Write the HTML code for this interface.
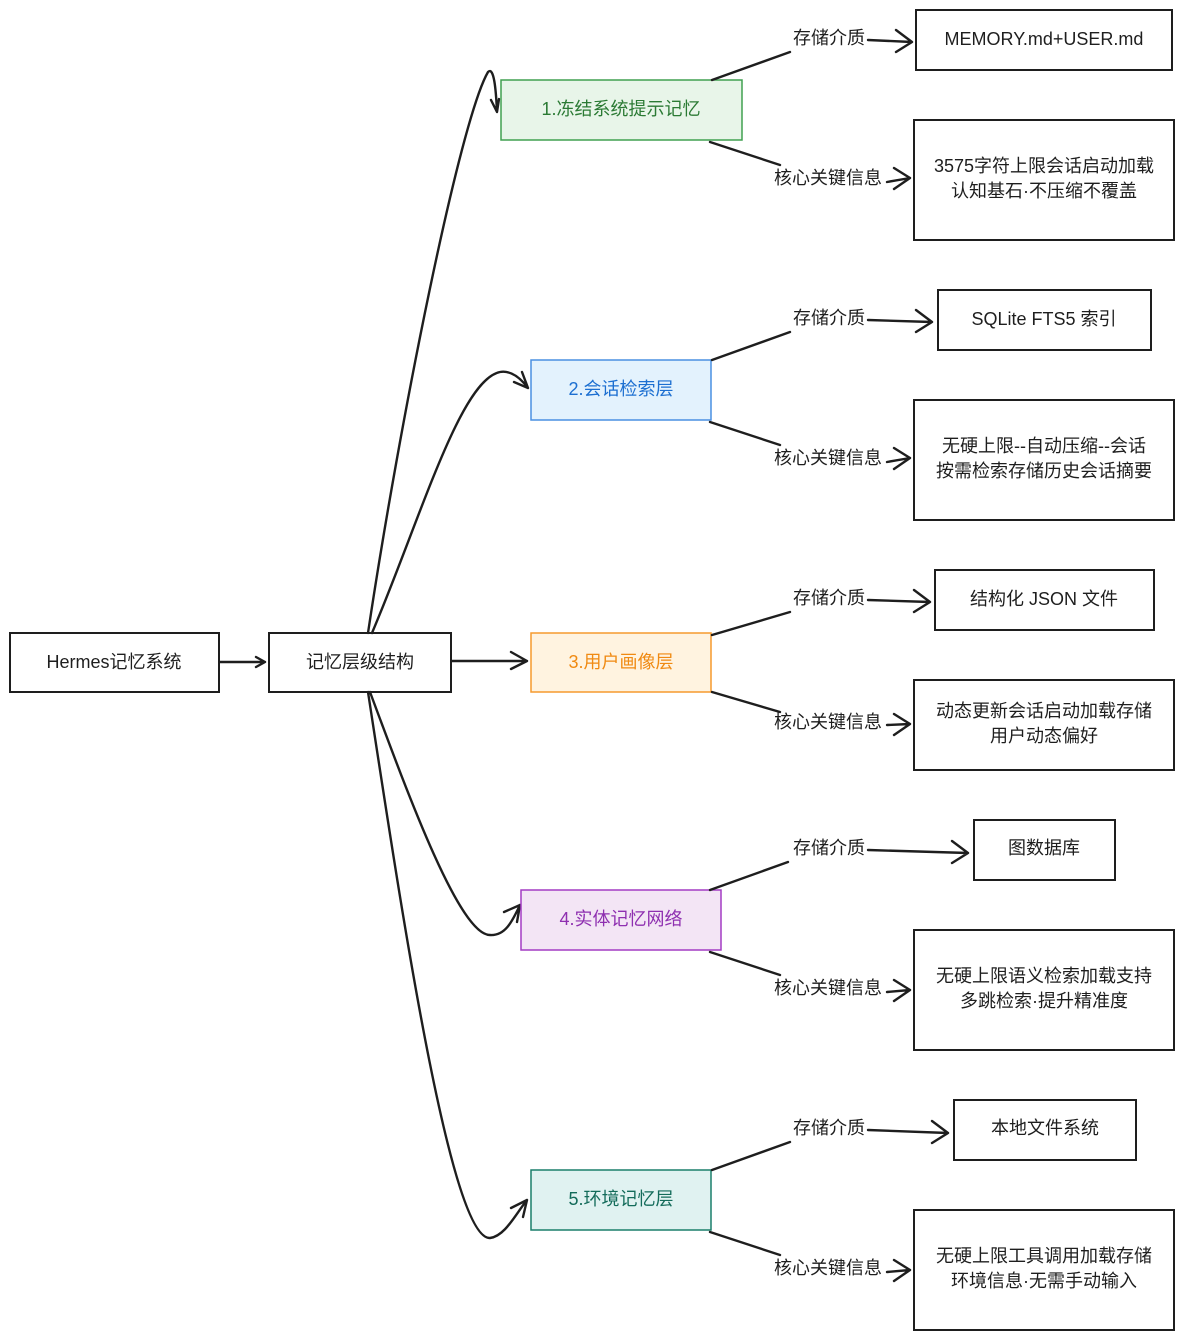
<!DOCTYPE html>
<html><head><meta charset="utf-8"><style>
html,body{margin:0;padding:0;background:#fff;}
svg{display:block;}
text{font-family:"Liberation Sans","Noto Sans CJK SC",sans-serif;font-size:18px;dominant-baseline:central;text-anchor:middle;}
.b{fill:#fff;stroke:#1e1e1e;stroke-width:2;}
.l{fill:none;stroke:#1e1e1e;stroke-width:2.4;stroke-linecap:round;stroke-linejoin:round;}
.lab{font-size:18px;fill:#1e1e1e;}
</style></head><body>
<svg width="1184" height="1340" viewBox="0 0 1184 1340" xmlns="http://www.w3.org/2000/svg">
<rect width="1184" height="1340" fill="#fff"/>
<rect class="b" x="10" y="633" width="209" height="59"/>
<text x="114" y="662" fill="#1e1e1e">Hermes记忆系统</text>
<rect class="b" x="269" y="633" width="182" height="59"/>
<text x="360" y="662" fill="#1e1e1e">记忆层级结构</text>
<path class="l" d="M220 662 L265 662 M256 657 L265 662 L256 667"/>
<path class="l" d="M452 661 L527 661 M511 652 L527 661 L511 669"/>
<path class="l" d="M368 633 C400 420 460 120 488 72 C494 66 496 90 497 112 M491 100 L497 112 L499 99"/>
<path class="l" d="M372 633 C420 520 460 380 500 372 C512 370 522 380 528 388 M514 382 L528 388 L522 372"/>
<path class="l" d="M370 692 C410 800 460 935 490 935 C505 936 512 922 520 905 M504 912 L520 905 L517 922"/>
<path class="l" d="M368 692 C400 900 450 1240 490 1238 C505 1236 515 1215 527 1200 M511 1208 L527 1200 L523 1217"/>
<rect x="501" y="80" width="241" height="60" fill="#e8f5e9" stroke="#40a050" stroke-width="1.5"/>
<text x="621" y="109" fill="#2b7a34">1.冻结系统提示记忆</text>
<rect x="531" y="360" width="180" height="60" fill="#e3f2fd" stroke="#4a90e2" stroke-width="1.5"/>
<text x="621" y="389" fill="#1c6fd1">2.会话检索层</text>
<rect x="531" y="633" width="180" height="59" fill="#fff3e0" stroke="#f59a2e" stroke-width="1.5"/>
<text x="621" y="662" fill="#f08a12">3.用户画像层</text>
<rect x="521" y="890" width="200" height="60" fill="#f3e5f5" stroke="#a33cc4" stroke-width="1.5"/>
<text x="621" y="919" fill="#8e2fb0">4.实体记忆网络</text>
<rect x="531" y="1170" width="180" height="60" fill="#e0f2f1" stroke="#1a7f6b" stroke-width="1.5"/>
<text x="621" y="1199" fill="#136b5a">5.环境记忆层</text>

<path class="l" d="M712 80 L790 52 M868 40 L912 42 M896 30 L912 42 L896 52"/>
<text class="lab" x="829" y="38">存储介质</text>
<path class="l" d="M710 142 L780 165 M887 182 L910 178 M894 168 L910 178 L894 189"/>
<text class="lab" x="828" y="178">核心关键信息</text>
<rect class="b" x="916" y="10" width="256" height="60"/>
<text x="1044" y="39" fill="#1e1e1e">MEMORY.md+USER.md</text>
<rect class="b" x="914" y="120" width="260" height="120"/>
<text x="1044" y="166" fill="#1e1e1e">3575字符上限会话启动加载</text>
<text x="1044" y="191" fill="#1e1e1e">认知基石·不压缩不覆盖</text>

<path class="l" d="M712 360 L790 332 M868 320 L932 322 M916 310 L932 322 L916 332"/>
<text class="lab" x="829" y="318">存储介质</text>
<path class="l" d="M710 422 L780 445 M887 462 L910 458 M894 448 L910 458 L894 469"/>
<text class="lab" x="828" y="458">核心关键信息</text>
<rect class="b" x="938" y="290" width="213" height="60"/>
<text x="1044" y="319" fill="#1e1e1e">SQLite FTS5 索引</text>
<rect class="b" x="914" y="400" width="260" height="120"/>
<text x="1044" y="446" fill="#1e1e1e">无硬上限--自动压缩--会话</text>
<text x="1044" y="471" fill="#1e1e1e">按需检索存储历史会话摘要</text>

<path class="l" d="M712 635 L790 612 M868 600 L930 602 M914 590 L930 602 L914 612"/>
<text class="lab" x="829" y="598">存储介质</text>
<path class="l" d="M712 692 L780 712 M887 725 L910 724 M894 714 L910 724 L894 735"/>
<text class="lab" x="828" y="722">核心关键信息</text>
<rect class="b" x="935" y="570" width="219" height="60"/>
<text x="1044" y="599" fill="#1e1e1e">结构化 JSON 文件</text>
<rect class="b" x="914" y="680" width="260" height="90"/>
<text x="1044" y="711" fill="#1e1e1e">动态更新会话启动加载存储</text>
<text x="1044" y="736" fill="#1e1e1e">用户动态偏好</text>

<path class="l" d="M710 890 L788 862 M868 850 L968 853 M952 841 L968 853 L952 863"/>
<text class="lab" x="829" y="848">存储介质</text>
<path class="l" d="M710 952 L780 975 M887 992 L910 990 M894 980 L910 990 L894 1001"/>
<text class="lab" x="828" y="988">核心关键信息</text>
<rect class="b" x="974" y="820" width="141" height="60"/>
<text x="1044" y="848" fill="#1e1e1e">图数据库</text>
<rect class="b" x="914" y="930" width="260" height="120"/>
<text x="1044" y="976" fill="#1e1e1e">无硬上限语义检索加载支持</text>
<text x="1044" y="1001" fill="#1e1e1e">多跳检索·提升精准度</text>

<path class="l" d="M712 1170 L790 1142 M868 1130 L948 1133 M932 1121 L948 1133 L932 1143"/>
<text class="lab" x="829" y="1128">存储介质</text>
<path class="l" d="M710 1232 L780 1255 M887 1272 L910 1270 M894 1260 L910 1270 L894 1281"/>
<text class="lab" x="828" y="1268">核心关键信息</text>
<rect class="b" x="954" y="1100" width="182" height="60"/>
<text x="1045" y="1128" fill="#1e1e1e">本地文件系统</text>
<rect class="b" x="914" y="1210" width="260" height="120"/>
<text x="1044" y="1256" fill="#1e1e1e">无硬上限工具调用加载存储</text>
<text x="1044" y="1281" fill="#1e1e1e">环境信息·无需手动输入</text>
</svg>
</body></html>
